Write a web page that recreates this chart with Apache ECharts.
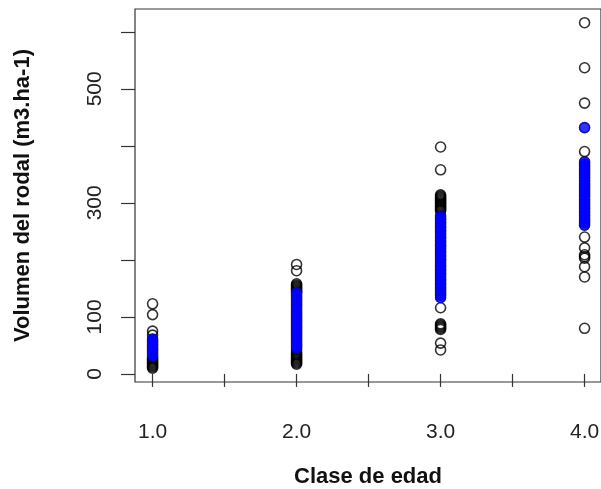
<!DOCTYPE html>
<html>
<head>
<meta charset="utf-8">
<style>
  html, body { margin: 0; padding: 0; background: #fff; }
  #chart { width: 601px; height: 489px; }
</style>
<script src="https://cdn.jsdelivr.net/npm/echarts@6/dist/echarts.min.js"></script>
</head>
<body>
<div id="chart"></div>
<script>
// Age classes and stand volumes (m3/ha) observed in each class
const clases = [1, 2, 3, 4];

const volumen1 = [123, 104, 75, 68, 61, 58, 55, 52, 49, 46, 43, 40, 37, 34, 31,
  28, 26, 24, 22, 20, 18, 16, 14, 12, 10];
const volumen2 = [192, 181, 158, 156, 154, 152, 150, 148, 146, 144, 143, 140, 137,
  134, 131, 128, 125, 122, 119, 116, 112, 109, 106, 103, 100, 97, 94, 91, 88, 85,
  82, 79, 76, 73, 70, 67, 64, 61, 58, 55, 52, 49, 46, 42, 38, 35, 33, 31, 29, 27,
  25, 23, 21, 19, 17];
const volumen3 = [398, 358, 314, 312, 310, 308, 306, 304, 302, 300, 298, 296, 294,
  292, 290, 288, 286, 277, 273, 270, 266, 263, 259, 256, 252, 249, 245, 241, 238,
  234, 231, 227, 224, 220, 216, 213, 209, 206, 202, 199, 195, 191, 188, 184, 181,
  177, 174, 170, 166, 163, 159, 156, 152, 149, 145, 141, 138, 134, 116, 88, 86, 84,
  82, 80, 78, 54, 42];
const volumen4 = [616, 537, 475, 432, 390, 372, 368, 364, 360, 356, 352, 348, 344,
  339, 335, 331, 327, 323, 319, 315, 311, 306, 302, 298, 294, 290, 286, 282, 278,
  273, 269, 265, 261, 240, 221, 209, 206, 203, 188, 170, 80];

// Stands highlighted in blue within each class
const destacado1 = [61, 58, 55, 52, 49, 46, 43, 40, 37, 34, 32];
const destacado2 = [143, 140, 137, 134, 131, 128, 125, 122, 119, 116, 112, 109, 106,
  103, 100, 97, 94, 91, 88, 85, 82, 79, 76, 73, 70, 67, 64, 61, 58, 55, 52, 49, 46];
const destacado3 = [277, 273, 270, 266, 263, 259, 256, 252, 249, 245, 241, 238, 234,
  231, 227, 224, 220, 216, 213, 209, 206, 202, 199, 195, 191, 188, 184, 181, 177,
  174, 170, 166, 163, 159, 156, 152, 149, 145, 141, 138, 134];
const destacado4 = [432, 372, 368, 364, 360, 356, 352, 348, 344, 339, 335, 331, 327,
  323, 319, 315, 311, 306, 302, 298, 294, 290, 286, 282, 278, 273, 269, 265, 261];

// Axis ticks and labels
const ticksX = [1, 1.5, 2, 2.5, 3, 3.5, 4];
const etiquetasX = [1, 2, 3, 4];
const ticksY = [0, 100, 200, 300, 400, 500, 600];
const etiquetasY = [0, 100, 300, 500];

const tituloX = 'Clase de edad';
const tituloY = 'Volumen del rodal (m3.ha-1)';

function pares(clase, valores) {
  return valores.map(v => [clase, v]);
}

const todos = [].concat(
  pares(clases[0], volumen1), pares(clases[1], volumen2),
  pares(clases[2], volumen3), pares(clases[3], volumen4));
const azules = [].concat(
  pares(clases[0], destacado1), pares(clases[1], destacado2),
  pares(clases[2], destacado3), pares(clases[3], destacado4));

const fuente = "'Liberation Sans', Arial, Helvetica, sans-serif";

const chart = echarts.init(document.getElementById('chart'), null, { renderer: 'canvas' });
chart.setOption({
  animation: false,
  backgroundColor: '#ffffff',
  grid: {
    left: 135, top: 9, width: 466, height: 373,
    outerBoundsMode: 'none',
    containLabel: false,
    show: true, borderColor: '#333', borderWidth: 1.2, backgroundColor: 'transparent'
  },
  xAxis: {
    type: 'value',
    min: 0.878, max: 4.114,
    splitLine: { show: false },
    axisLine: { show: false },
    axisTick: { show: true, length: 13, customValues: ticksX,
      lineStyle: { color: '#333', width: 1.2 } },
    axisLabel: { customValues: etiquetasX, formatter: v => v.toFixed(1),
      margin: 40, fontSize: 21, color: '#222', fontFamily: fuente },
    name: tituloX,
    nameLocation: 'middle',
    nameGap: 84,
    nameTextStyle: { fontSize: 22, fontWeight: 'bold', color: '#111', fontFamily: fuente }
  },
  yAxis: {
    type: 'value',
    min: -14.2, max: 640,
    splitLine: { show: false },
    axisLine: { show: false },
    axisTick: { show: true, length: 14, customValues: ticksY,
      lineStyle: { color: '#333', width: 1.2 } },
    axisLabel: { customValues: etiquetasY, rotate: 90, margin: 29,
      fontSize: 21, color: '#222', fontFamily: fuente },
    name: tituloY,
    nameLocation: 'middle',
    nameGap: 101,
    nameTextStyle: { fontSize: 22, fontWeight: 'bold', color: '#111', fontFamily: fuente }
  },
  series: [
    {
      type: 'scatter',
      data: todos,
      symbol: 'circle',
      symbolSize: 10,
      itemStyle: { color: 'rgba(255,255,255,0)', borderColor: '#000', borderWidth: 1.6 },
      emphasis: { disabled: true },
      z: 2
    },
    {
      type: 'scatter',
      data: azules,
      symbol: 'circle',
      symbolSize: 11,
      itemStyle: { color: '#0000ff', borderWidth: 0 },
      emphasis: { disabled: true },
      z: 3
    }
  ]
});
</script>
</body>
</html>
